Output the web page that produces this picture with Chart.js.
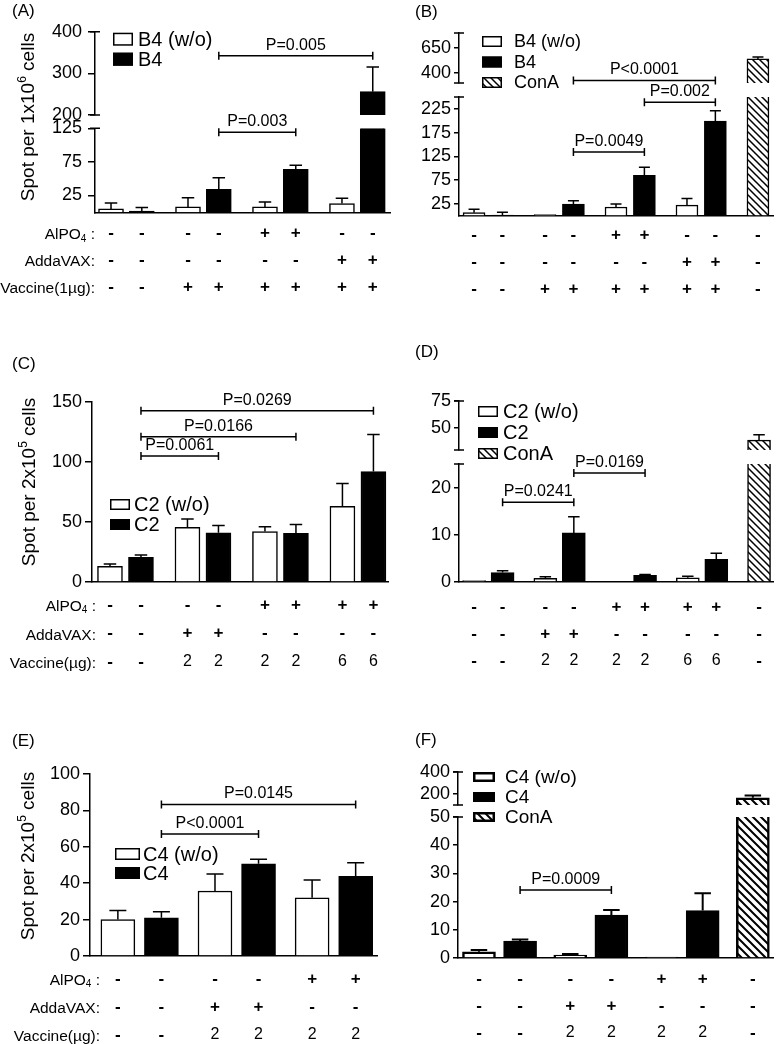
<!DOCTYPE html>
<html>
<head>
<meta charset="utf-8">
<title>ELISpot responses</title>
<script src="https://cdn.jsdelivr.net/npm/chart.js@4.4.1/dist/chart.umd.min.js"></script>
<style>
  html, body { margin: 0; padding: 0; background: #fff; }
  #fig { position: relative; width: 776px; height: 1044px; overflow: hidden; }
  #fig canvas { position: absolute; left: 0; top: 0; }
</style>
</head>
<body>
<div id="fig">
  <canvas id="panelA" width="776" height="1044"></canvas>
  <canvas id="panelB" width="776" height="1044"></canvas>
  <canvas id="panelC" width="776" height="1044"></canvas>
  <canvas id="panelD" width="776" height="1044"></canvas>
  <canvas id="panelE" width="776" height="1044"></canvas>
  <canvas id="panelF" width="776" height="1044"></canvas>
</div>
<script>
// (A) B4, spots per 1x10^6 cells
const aWo = [5, 8, 8, 13];
const aWoErr = [9, 13.5, 7.5, 8];
const aB4 = [2, 34, 64, 256];
const aB4Err = [5, 17.5, 6, 59];
const aTopTicks = [200, 300, 400];
const aLowTicks = [25, 75, 125];
const aAlpo = ['-', '-', '-', '-', '+', '+', '-', '-'];
const aAdda = ['-', '-', '-', '-', '-', '-', '+', '+'];
const aVacc = ['-', '-', '+', '+', '+', '+', '+', '+'];
const aBrackets = [['P=0.003', 3, 5, 119], ['P=0.005', 3, 7, 342]];

// (B) B4 with ConA control
const bWo = [6, 2, 18, 22];
const bWoErr = [7, 0, 6, 14];
const bB4 = [1, 24, 85, 199];
const bB4Err = [6, 7, 17, 22];
const bConA = [541];
const bConAErr = [19];
const bTopTicks = [400, 650];
const bLowTicks = [25, 75, 125, 175, 225];
const bAlpo = ['-', '-', '-', '-', '+', '+', '-', '-', '-'];
const bAdda = ['-', '-', '-', '-', '-', '-', '+', '+', '-'];
const bVacc = ['-', '-', '+', '+', '+', '+', '+', '+', '-'];
const bBrackets = [['P=0.0049', 3, 5, 134], ['P=0.002', 5, 7, 239], ['P<0.0001', 3, 7, 326]];

// (C) C2, spots per 2x10^5 cells
const cWo = [13, 45.5, 42, 63];
const cWoErr = [2, 7, 4, 19];
const cC2 = [20.5, 41, 40.5, 92];
const cC2Err = [2, 6, 7.5, 31];
const cTicks = [0, 50, 100, 150];
const cAlpo = ['-', '-', '-', '-', '+', '+', '+', '+'];
const cAdda = ['-', '-', '+', '+', '-', '-', '-', '-'];
const cVacc = ['-', '-', '2', '2', '2', '2', '6', '6'];
const cBrackets = [['P=0.0061', 1, 3, 105], ['P=0.0166', 1, 5, 121], ['P=0.0269', 1, 7, 142.7]];

// (D) C2 with ConA control
const dWo = [0.3, 0.8, 0, 0.9];
const dWoErr = [0, 0.3, 0, 0.3];
const dC2 = [2, 10.4, 1.4, 4.8];
const dC2Err = [0.4, 3.4, 0.2, 1.3];
const dConA = [39];
const dConAErr = [5];
const dTopTicks = [50, 75];
const dLowTicks = [0, 10, 20];
const dAlpo = ['-', '-', '-', '-', '+', '+', '+', '+', '-'];
const dAdda = ['-', '-', '+', '+', '-', '-', '-', '-', '-'];
const dVacc = ['-', '-', '2', '2', '2', '2', '6', '6', '-'];
const dBrackets = [['P=0.0241', 1, 3, 16.9], ['P=0.0169', 3, 5, 23.1]];

// (E) C4, spots per 2x10^5 cells
const eWo = [20, 35.7, 32];
const eWoErr = [5, 9.3, 9.7];
const eC4 = [21, 50.7, 43.8];
const eC4Err = [3.3, 2.4, 7.5];
const eTicks = [0, 20, 40, 60, 80, 100];
const eAlpo = ['-', '-', '-', '-', '+', '+'];
const eAdda = ['-', '-', '+', '+', '-', '-'];
const eVacc = ['-', '-', '2', '2', '2', '2'];
const eBrackets = [['P<0.0001', 1, 3, 67], ['P=0.0145', 1, 5, 83.3]];

// (F) C4 with ConA control
const fWo = [2.2, 1, 0.3];
const fWoErr = [0.6, 0.4, 0];
const fC4 = [6, 15.2, 16.8];
const fC4Err = [0.6, 1.8, 6.2];
const fConA = [165];
const fConAErr = [22];
const fTopTicks = [200, 400];
const fLowTicks = [0, 10, 20, 30, 40, 50];
const fAlpo = ['-', '-', '-', '-', '+', '+', '-'];
const fAdda = ['-', '-', '+', '+', '-', '-', '-'];
const fVacc = ['-', '-', '2', '2', '2', '2', '-'];
const fBrackets = [['P=0.0009', 1, 3, 24.1]];

const FONT = "'Liberation Sans', Arial, sans-serif";
const Y_W = 60;

// text with ^x (superscript) and _x (subscript) markers
function drawRich(ctx, s, x, y, size, align) {
    const parts = [];
    let buf = '';
    for (let k = 0; k < s.length; k++) {
        const ch = s[k];
        if ((ch === '^' || ch === '_') && k + 1 < s.length) {
            if (buf) parts.push({ t: buf, m: 0 });
            buf = '';
            parts.push({ t: s[k + 1], m: ch === '^' ? 1 : -1 });
            k++;
        } else {
            buf += ch;
        }
    }
    if (buf) parts.push({ t: buf, m: 0 });
    const small = Math.round(size * 0.62);
    const fontOf = p => (p.m ? small : size) + 'px ' + FONT;
    let total = 0;
    parts.forEach(p => { ctx.font = fontOf(p); p.w = ctx.measureText(p.t).width; total += p.w; });
    let cx = align === 'right' ? x - total : align === 'center' ? x - total / 2 : x;
    ctx.textAlign = 'left';
    ctx.textBaseline = 'alphabetic';
    parts.forEach(p => {
        ctx.font = fontOf(p);
        const dy = p.m === 1 ? -size * 0.42 : p.m === -1 ? size * 0.15 : 0;
        ctx.fillText(p.t, cx, y + dy);
        cx += p.w;
    });
}

function hatchPattern(tile, lw) {
    const c = document.createElement('canvas');
    c.width = c.height = tile;
    const g = c.getContext('2d');
    g.fillStyle = '#fff';
    g.fillRect(0, 0, tile, tile);
    g.strokeStyle = '#000';
    g.lineWidth = lw;
    g.beginPath();
    [-tile, 0, tile].forEach(o => { g.moveTo(o - 1, -1); g.lineTo(o + tile + 1, tile + 1); });
    g.stroke();
    return g.createPattern(c, 'repeat');
}

function makePanel(p) {
    const n = p.series[0].vals.length;
    const pos = i => i + p.gap * Math.floor(i / 2);
    const bw = p.bw || 1.5;
    const fills = { open: '#fff', solid: '#000', hatch: hatchPattern(p.hatch || 7, p.hatchW || 1.5) };
    const datasets = [];
    const bars = [];

    function addSeries(label, kind, vals, errs, idx) {
        const style = {
            label: label,
            backgroundColor: fills[kind],
            borderColor: '#000',
            grouped: false,
            barThickness: p.barW,
            borderWidth: c => (c.raw && c.raw.cut) ? { left: bw, right: bw, top: 0, bottom: 0 } : bw
        };
        const xs = vals.map((v, j) => pos(idx(j)));
        datasets.push(Object.assign({
            yAxisID: 'y',
            data: vals.map((v, j) => ({ x: xs[j], y: Math.min(v, p.low.max), cut: v > p.low.max }))
        }, style));
        if (p.top) {
            const up = [];
            vals.forEach((v, j) => { if (v > p.top.min) up.push({ x: xs[j], y: [p.top.min, v] }); });
            if (up.length) datasets.push(Object.assign({ yAxisID: 'yTop', data: up }, style));
        }
        vals.forEach((v, j) => bars.push({ x: xs[j], v: v, e: errs[j] }));
    }

    p.series.forEach((s, k) => addSeries(s.label, s.kind, s.vals, s.errs, j => 2 * j + k));
    if (p.conA) addSeries('ConA', 'hatch', p.conA.vals, p.conA.errs, () => 2 * n);

    function yAxis(rng, weight) {
        const ax = {
            type: 'linear',
            position: 'left',
            min: rng.min,
            max: rng.max,
            afterBuildTicks: s => { s.ticks = rng.ticks.map(v => ({ value: v })); },
            afterFit: s => { s.width = Y_W; },
            grid: { display: true, drawOnChartArea: false, drawTicks: true, tickLength: p.tickLen, color: '#000', lineWidth: 1.5 },
            border: { display: true, color: '#000', width: 1.5 },
            ticks: {
                color: '#000', padding: p.tickPad, autoSkip: false,
                font: { family: FONT, size: 18 }, callback: v => String(v)
            }
        };
        if (weight) { ax.stack = 'brk'; ax.stackWeight = weight; }
        return ax;
    }

    const scales = {
        x: {
            type: 'linear', min: p.xRange[0], max: p.xRange[1], offset: false,
            grid: { display: false }, ticks: { display: false },
            border: { display: true, color: '#000', width: 1.5 },
            afterFit: s => { s.height = 0; }
        }
    };
    // left boxes in a stack are laid out in reverse key order, so lower segment first
    if (p.top) {
        scales.y = yAxis(p.low, p.weights[2]);
        scales.yGap = {
            type: 'linear', position: 'left', stack: 'brk', stackWeight: p.weights[1], min: 0, max: 1,
            grid: { display: false }, ticks: { display: false }, border: { display: false },
            afterFit: s => { s.width = Y_W; }
        };
        scales.yTop = yAxis(p.top, p.weights[0]);
    } else {
        scales.y = yAxis(p.low);
    }

    const extras = {
        id: 'extras',
        afterDatasetsDraw(chart) {
            const ctx = chart.ctx;
            const xs = chart.scales.x;
            const seg = v => (p.top && v >= p.top.min) ? chart.scales.yTop : chart.scales.y;
            const yPix = v => seg(v).getPixelForValue(v);
            ctx.save();
            ctx.strokeStyle = '#000';
            ctx.fillStyle = '#000';
            // error bars (upper whisker only)
            ctx.lineWidth = p.errW || 1.5;
            bars.forEach(b => {
                if (!b.e) return;
                const x = xs.getPixelForValue(b.x);
                const y0 = yPix(b.v), y1 = yPix(b.v + b.e);
                const cw = p.barW * 0.25;
                ctx.beginPath();
                ctx.moveTo(x, y0); ctx.lineTo(x, y1);
                ctx.moveTo(x - cw, y1); ctx.lineTo(x + cw, y1);
                ctx.stroke();
            });
            // significance brackets
            ctx.lineWidth = 1.5;
            p.brackets.forEach(([txt, i1, i2, v]) => {
                const xa = xs.getPixelForValue(pos(i1)), xb = xs.getPixelForValue(pos(i2));
                const y = yPix(v);
                ctx.beginPath();
                ctx.moveTo(xa, y); ctx.lineTo(xb, y);
                ctx.moveTo(xa, y - 4); ctx.lineTo(xa, y + 4);
                ctx.moveTo(xb, y - 4); ctx.lineTo(xb, y + 4);
                ctx.stroke();
                ctx.font = '16px ' + FONT;
                ctx.textAlign = 'center';
                ctx.textBaseline = 'alphabetic';
                ctx.fillText(txt, (xa + xb) / 2, y - 6);
            });
            ctx.restore();
        },
        afterDraw(chart) {
            const ctx = chart.ctx;
            const xs = chart.scales.x;
            const area = chart.chartArea;
            ctx.save();
            ctx.strokeStyle = '#000';
            ctx.fillStyle = '#000';
            // caps at the ends of broken axis segments
            if (p.top) {
                ctx.lineWidth = 1.5;
                ctx.beginPath();
                [chart.scales.yTop.top, chart.scales.yTop.bottom, chart.scales.y.top].forEach(y => {
                    ctx.moveTo(area.left - 5, y); ctx.lineTo(area.left + 5, y);
                });
                ctx.stroke();
            }
            // legend
            const L = p.legend;
            const items = p.series.map(s => [s.label, s.kind]);
            if (p.conA) items.push(['ConA', 'hatch']);
            items.forEach(([lab, kind], k) => {
                const bx = area.left + L.dx, by = area.top + L.dy + k * L.step;
                ctx.fillStyle = fills[kind];
                ctx.fillRect(bx, by, L.w, L.h);
                ctx.lineWidth = bw;
                ctx.strokeRect(bx + bw / 2, by + bw / 2, L.w - bw, L.h - bw);
                ctx.fillStyle = '#000';
                ctx.font = L.size + 'px ' + FONT;
                ctx.textAlign = 'left';
                ctx.textBaseline = 'middle';
                ctx.fillText(lab, bx + L.w + L.gap, by + L.h / 2 + 1);
            });
            // treatment rows under the bars
            p.rows.forEach((row, r) => {
                const y = area.bottom + p.rowTop + r * p.rowGap;
                row.forEach((t, i) => {
                    const sym = t === '+' || t === '-';
                    ctx.font = (sym ? 'bold 17px ' : '16px ') + FONT;
                    ctx.textAlign = 'center';
                    ctx.textBaseline = 'middle';
                    ctx.fillText(t, xs.getPixelForValue(pos(i)), y);
                });
                if (p.rowLabels) drawRich(ctx, p.rowLabels[r], p.labelRight, y + 6, 15.5, 'right');
            });
            // y title
            if (p.yTitle) {
                ctx.save();
                ctx.translate(p.yTitle[1], p.yTitle[2]);
                ctx.rotate(-Math.PI / 2);
                drawRich(ctx, p.yTitle[0], 0, 7, 19, 'center');
                ctx.restore();
            }
            // panel letter
            ctx.font = '17px ' + FONT;
            ctx.textAlign = 'left';
            ctx.textBaseline = 'middle';
            ctx.fillText(p.label[0], p.label[1], p.label[2]);
            ctx.restore();
        }
    };

    return new Chart(document.getElementById(p.id), {
        type: 'bar',
        data: { datasets: datasets },
        options: {
            responsive: false,
            animation: false,
            events: [],
            devicePixelRatio: 1,
            layout: {
                padding: { left: p.area[0] - Y_W, top: p.area[1], right: 776 - p.area[2], bottom: 1044 - p.area[3] }
            },
            plugins: { legend: { display: false }, tooltip: { enabled: false } },
            scales: scales
        },
        plugins: [extras]
    });
}

makePanel({
    id: 'panelA', label: ['(A)', 12, 11],
    area: [95, 31.7, 390, 212.3], xRange: [-0.52, 9.06], gap: 0.5, barW: 25,
    top: { min: 200, max: 400, ticks: aTopTicks }, low: { min: 0, max: 125, ticks: aLowTicks },
    weights: [83.3, 13.3, 84],
    series: [
        { label: 'B4 (w/o)', kind: 'open', vals: aWo, errs: aWoErr },
        { label: 'B4', kind: 'solid', vals: aB4, errs: aB4Err }
    ],
    brackets: aBrackets,
    rows: [aAlpo, aAdda, aVacc], rowLabels: ['AlPO_4 :', 'AddaVAX:', 'Vaccine(1µg):'],
    labelRight: 95, rowTop: 21, rowGap: 27,
    legend: { dx: 18, dy: 1, w: 20, h: 13, gap: 5, step: 20, size: 20 },
    yTitle: ['Spot per 1x10^6 cells', 27, 117],
    tickLen: 7, tickPad: 6
});

makePanel({
    id: 'panelB', label: ['(B)', 415, 12],
    area: [459, 33, 773, 215.5], xRange: [-0.53, 10.53], gap: 0.5, barW: 22,
    top: { min: 300, max: 800, ticks: bTopTicks }, low: { min: 0, max: 250, ticks: bLowTicks },
    weights: [50, 14, 118.5],
    series: [
        { label: 'B4 (w/o)', kind: 'open', vals: bWo, errs: bWoErr },
        { label: 'B4', kind: 'solid', vals: bB4, errs: bB4Err }
    ],
    conA: { vals: bConA, errs: bConAErr },
    brackets: bBrackets,
    rows: [bAlpo, bAdda, bVacc], rowTop: 20, rowGap: 27,
    legend: { dx: 23, dy: 3, w: 20, h: 11, gap: 12, step: 20.5, size: 18 },
    tickLen: 5, tickPad: 3
});

makePanel({
    id: 'panelC', label: ['(C)', 12, 364],
    area: [92, 402, 388, 582], xRange: [-0.58, 8.97], gap: 0.5, barW: 25,
    low: { min: 0, max: 150, ticks: cTicks },
    series: [
        { label: 'C2 (w/o)', kind: 'open', vals: cWo, errs: cWoErr },
        { label: 'C2', kind: 'solid', vals: cC2, errs: cC2Err }
    ],
    brackets: cBrackets,
    rows: [cAlpo, cAdda, cVacc], rowLabels: ['AlPO_4 :', 'AddaVAX:', 'Vaccine(µg):'],
    labelRight: 96, rowTop: 23, rowGap: 28.5,
    legend: { dx: 18, dy: 97, w: 20, h: 11, gap: 4, step: 20, size: 20 },
    yTitle: ['Spot per 2x10^5 cells', 28, 482],
    tickLen: 7, tickPad: 3
});

makePanel({
    id: 'panelD', label: ['(D)', 415, 352],
    area: [459, 401, 773, 582], xRange: [-0.53, 10.49], gap: 0.5, barW: 23,
    top: { min: 30, max: 75, ticks: dTopTicks }, low: { min: 0, max: 25, ticks: dLowTicks },
    weights: [49, 14, 118],
    series: [
        { label: 'C2 (w/o)', kind: 'open', vals: dWo, errs: dWoErr },
        { label: 'C2', kind: 'solid', vals: dC2, errs: dC2Err }
    ],
    conA: { vals: dConA, errs: dConAErr },
    brackets: dBrackets,
    rows: [dAlpo, dAdda, dVacc], rowTop: 25, rowGap: 27,
    legend: { dx: 19, dy: 5, w: 20, h: 11, gap: 5, step: 21, size: 20 },
    tickLen: 5, tickPad: 3
});

makePanel({
    id: 'panelE', label: ['(E)', 12, 741],
    area: [90, 774, 377, 956], xRange: [-0.64, 5.95], gap: 0.23, barW: 34,
    low: { min: 0, max: 100, ticks: eTicks },
    series: [
        { label: 'C4 (w/o)', kind: 'open', vals: eWo, errs: eWoErr },
        { label: 'C4', kind: 'solid', vals: eC4, errs: eC4Err }
    ],
    brackets: eBrackets,
    rows: [eAlpo, eAdda, eVacc], rowLabels: ['AlPO_4 :', 'AddaVAX:', 'Vaccine(µg):'],
    labelRight: 100, rowTop: 23, rowGap: 28,
    legend: { dx: 25, dy: 74, w: 25, h: 12, gap: 3, step: 19, size: 20 },
    yTitle: ['Spot per 2x10^5 cells', 27, 856],
    tickLen: 7, tickPad: 3
});

makePanel({
    id: 'panelF', label: ['(F)', 415, 740],
    area: [458, 772, 773, 958], xRange: [-0.51, 7.15], gap: 0.22, barW: 33, bw: 2.5, errW: 2,
    hatch: 8, hatchW: 2,
    top: { min: 100, max: 400, ticks: fTopTicks }, low: { min: 0, max: 50, ticks: fLowTicks },
    weights: [33, 12, 141],
    series: [
        { label: 'C4 (w/o)', kind: 'open', vals: fWo, errs: fWoErr },
        { label: 'C4', kind: 'solid', vals: fC4, errs: fC4Err }
    ],
    conA: { vals: fConA, errs: fConAErr },
    brackets: fBrackets,
    rows: [fAlpo, fAdda, fVacc], rowTop: 21, rowGap: 27,
    legend: { dx: 15, dy: 0, w: 22, h: 10, gap: 10, step: 20, size: 19 },
    tickLen: 5, tickPad: 3
});
</script>
</body>
</html>
